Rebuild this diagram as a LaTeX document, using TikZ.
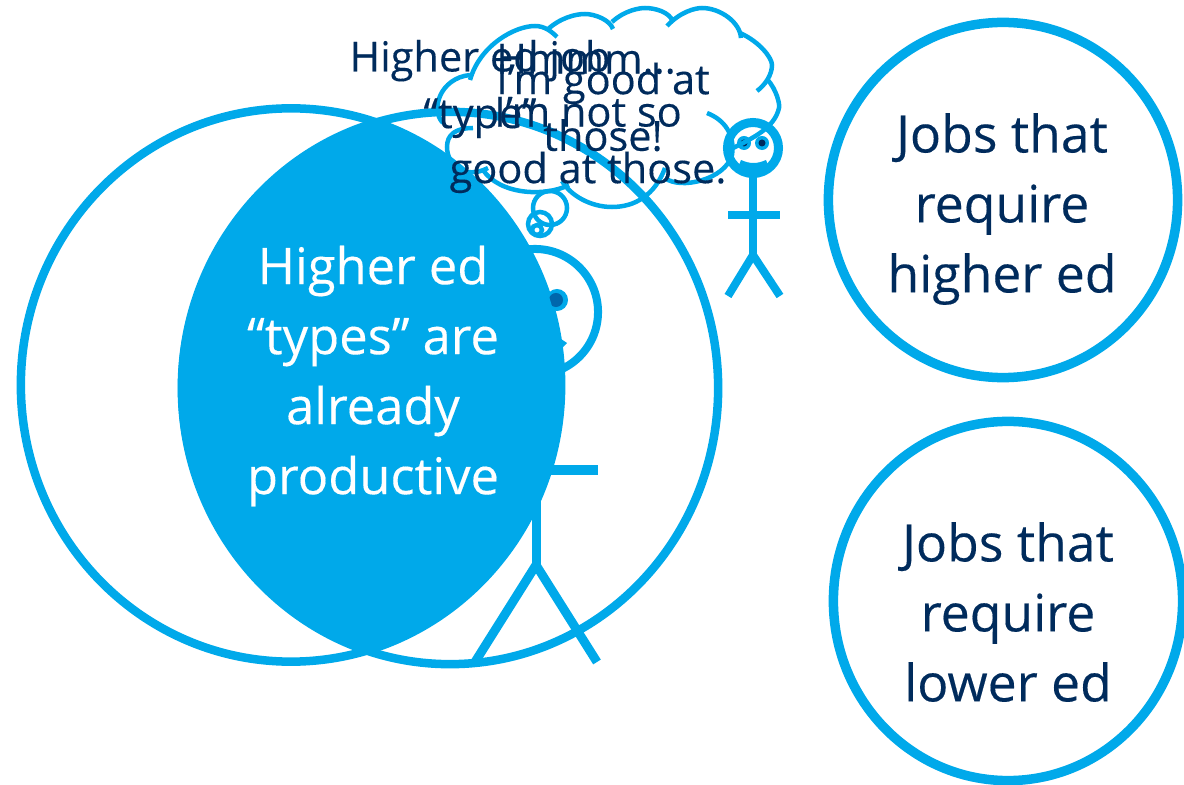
\documentclass[tikz,border=0pt]{standalone}
\usepackage{fontspec}
\setmainfont[FakeBold=0.25]{Open Sans}
\definecolor{cy}{HTML}{00A9EA}
\definecolor{navy}{HTML}{002B5C}
\definecolor{eyeblue}{HTML}{0067AC}
\tikzset{
 outline/.style={draw=cy,line width=0.085cm},
 bigcircle/.style={draw=cy,line width=0.095cm},
 limb/.style={draw=cy,line width=0.09cm},
 thinlimb/.style={draw=cy,line width=0.08cm},
 cloudline/.style={draw=cy,line width=0.045cm},
 bigtext/.style={text=navy,align=center,inner sep=0pt,font=\fontsize{14.7}{19.9}\selectfont},
 whitetext/.style={text=white,align=center,inner sep=0pt,font=\fontsize{14.4}{19.9}\selectfont},
 smalltext/.style={text=navy,align=center,inner sep=0pt,font=\fontsize{11.8}{16.1}\selectfont},
}
\begin{document}
\begin{tikzpicture}[x=0.01cm,y=-0.01cm]
\useasboundingbox (0,0) rectangle (1184,785);
% big circles
\draw[outline] (291,385) ellipse [x radius=2.70cm,y radius=2.765cm];
\draw[outline] (450,388) ellipse [x radius=2.68cm,y radius=2.76cm];
% job circles
\draw[bigcircle] (1003,200) ellipse [x radius=1.745cm,y radius=1.775cm];
\draw[bigcircle] (1008,601) ellipse [x radius=1.745cm,y radius=1.795cm];
% large figure
\draw[limb,line width=0.08cm] (535,312) circle [radius=0.63cm];
\fill[cy] (557,300) circle [radius=0.11cm];
\fill[eyeblue] (556,300) circle [radius=0.07cm];
\fill[cy] (555,335) -- (567,343) -- (560,350) -- (552,350) -- cycle;
\draw[limb] (536,375) -- (536,565);
\draw[limb] (480,470) -- (598,470);
\draw[limb] (475,662) -- (536,565) -- (597,662);
% lens
\begin{scope}
\clip (291,385) ellipse [x radius=2.72cm,y radius=2.77cm];
\fill[cy] (450,388) ellipse [x radius=2.72cm,y radius=2.76cm];
\end{scope}
% small figure
\draw[thinlimb,line width=0.09cm] (753,148) circle [radius=0.255cm];
\fill[cy] (744,143) circle [radius=0.07cm];
\fill[cy] (762,143) circle [radius=0.07cm];
\fill[navy] (744,143) circle [radius=0.035cm];
\fill[navy] (762,143) circle [radius=0.035cm];
\fill[cy] (741,160) .. controls (750,164) and (757,164) .. (766,160) -- (768,165) .. controls (758,172) and (749,172) .. (739,165) -- cycle;
\draw[thinlimb] (753,176) -- (753,255);
\draw[thinlimb] (728,215) -- (780,215);
\draw[thinlimb] (728,296) -- (753,255) -- (780,296);
% cloud
\draw[cloudline] (470,80) .. controls (480,45) and (515,26) .. (535,26) .. controls (545,26) and (552,32) .. (557,37);
\draw[cloudline] (547,30) .. controls (560,18) and (575,14) .. (585,14) .. controls (595,14) and (610,20) .. (613,29);
\draw[cloudline] (612,22) .. controls (625,10) and (640,8) .. (645,8) .. controls (655,8) and (670,12) .. (673,22);
\draw[cloudline] (667,26) .. controls (680,12) and (695,8) .. (702,8) .. controls (720,8) and (740,22) .. (741,38);
\draw[cloudline] (740,33) .. controls (760,42) and (772,58) .. (772,65) .. controls (772,75) and (765,85) .. (757,91);
\draw[cloudline] (767,79) .. controls (777,90) and (780,105) .. (779,108) .. controls (775,125) and (760,135) .. (733,148);
\draw[cloudline] (707,113) .. controls (725,120) and (735,135) .. (732,155) .. controls (725,180) and (680,190) .. (665,178);
\draw[cloudline] (665,168) .. controls (655,195) and (635,207) .. (612,207) .. controls (590,207) and (570,195) .. (562,181);
\draw[cloudline] (569,185) .. controls (545,197) and (500,195) .. (483,170);
\draw[cloudline] (488,168) .. controls (465,180) and (447,165) .. (447,147) .. controls (447,135) and (455,128) .. (473,128);
\draw[cloudline] (443,123) .. controls (430,110) and (440,78) .. (470,75);
\draw[cloudline] (550,208) circle [radius=0.17cm];
\draw[cloudline] (540,224) circle [radius=0.12cm];
\draw[cloudline] (537,230) circle [radius=0.05cm];
% texts
\node[bigtext] (higherjobs) at (1002,209) {Jobs that\\require\\higher ed};
\node[bigtext] (lowerjobs) at (1008,612) {Jobs that\\require\\lower ed};
\node[whitetext] (types) at (373,376) {Higher ed\\“types” are\\already\\productive};
\node[smalltext] (jobtype) at (480,89) {Higher ed job\\“type”};
\node[smalltext] (hmm) at (586,59) {Hmmm...};
\node[smalltext] (goodat) at (603,107) {I’m good at\\those!};
\node[smalltext] (notso) at (588,145) {I’m not so\\good at those.};
\end{tikzpicture}
\end{document}
